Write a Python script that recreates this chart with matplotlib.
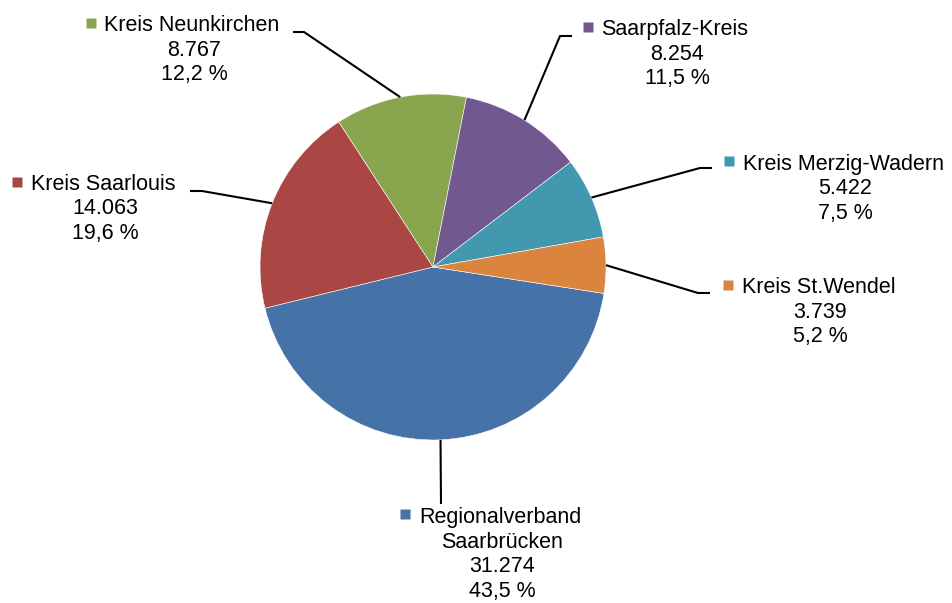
import numpy as np
import matplotlib
matplotlib.use("Agg")
import matplotlib.pyplot as plt

# Daten
names = ["Regionalverband\nSaarbrücken", "Kreis Saarlouis", "Kreis Neunkirchen",
         "Saarpfalz-Kreis", "Kreis Merzig-Wadern", "Kreis St.Wendel"]
values = [31274, 14063, 8767, 8254, 5422, 3739]
shares = [43.5, 19.6, 12.2, 11.5, 7.5, 5.2]

colors = ["#4572A7", "#AA4643", "#89A54E", "#71588F", "#4198AF", "#DB843D"]

# Layout der Beschriftungen (Pixel, y von oben)
# (Quadrat x, Quadrat y, Text x, Grundlinie 1, Zentrum x weitere Zeilen)
label_pos = [
    (405, 514, 419, 523, 502),
    (17, 182, 31, 190, 105),
    (91, 23, 104, 31, 194),
    (588, 27, 601, 35, 677),
    (729, 161, 743, 170, 845),
    (728, 285, 742, 293, 820),
]
# Knick und Ende der Fuehrungslinien
leader_pts = [
    ((441, 504), (441, 504)),
    ((202, 191), (190, 191)),
    ((304, 32), (293, 32)),
    ((560, 36), (572, 36)),
    ((700, 168), (712, 168)),
    ((698, 293), (710, 293)),
]

W, H = 952, 603
cx, cy, R = 433, H - 267, 173

plt.rcParams['font.family'] = ['Liberation Sans', 'DejaVu Sans']

fig = plt.figure(figsize=(W / 100, H / 100), dpi=100)
ax = fig.add_axes([0, 0, 1, 1])

wedges, _ = ax.pie(values, colors=colors, startangle=-8.8, counterclock=False,
                   radius=R, center=(cx, cy),
                   wedgeprops=dict(edgecolor='white', linewidth=0.4))

fs = 15.5
step = 24.5
for i, w in enumerate(wedges):
    mid = np.deg2rad((w.theta1 + w.theta2) / 2)
    ex, ey = cx + R * np.cos(mid), cy + R * np.sin(mid)
    (kx, ky), (tx, ty) = leader_pts[i]
    ax.plot([ex, kx, tx], [ey, H - ky, H - ty], color='black', lw=1.5,
            solid_capstyle='butt')

    sx, sy, x1, b1, lx = label_pos[i]
    ax.plot(sx, H - sy, marker='s', ms=7.5, color=colors[i], mec='none')
    parts = names[i].split("\n")
    ax.text(x1, H - b1, parts[0], fontsize=fs, ha='left', va='baseline')
    lines = parts[1:] + [f"{values[i]:,}".replace(",", "."),
                         f"{shares[i]:.1f}".replace(".", ",") + " %"]
    for k, line in enumerate(lines):
        ax.text(lx, H - (b1 + step * (k + 1)), line, fontsize=fs,
                ha='center', va='baseline')

ax.set_xlim(0, W)
ax.set_ylim(0, H)
ax.set_aspect('equal')
ax.axis('off')

fig.savefig("out.png", dpi=100)
